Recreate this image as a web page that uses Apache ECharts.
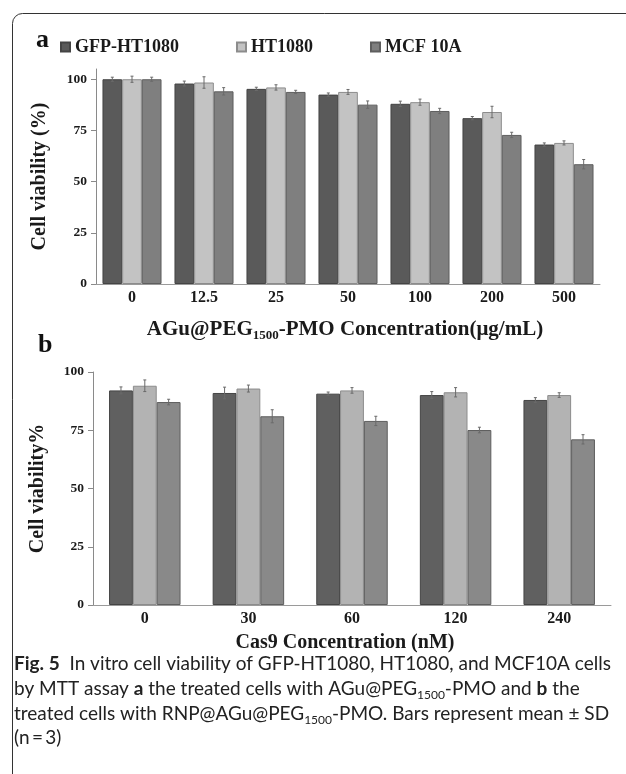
<!DOCTYPE html>
<html><head><meta charset="utf-8">
<script src="https://cdn.jsdelivr.net/npm/echarts@6/dist/echarts.min.js"></script>
<style>html,body{margin:0;padding:0;background:#fff}#c{width:626px;height:774px}</style>
</head><body><div id="c"></div>
<script>
const seriesNames = ['GFP-HT1080', 'HT1080', 'MCF 10A'];
const catsA = ['0', '12.5', '25', '50', '100', '200', '500'];
const gfpA = [100, 97.9, 95.3, 92.5, 88.0, 81.0, 68.1];
const htA  = [100, 98.4, 96.0, 93.8, 88.8, 84.0, 68.9];
const mcfA = [100, 94.1, 93.8, 87.6, 84.5, 72.8, 58.5];
const gfpAErr = [1.0, 1.2, 0.8, 0.8, 1.3, 0.8, 0.8];
const htAErr  = [1.5, 2.8, 1.3, 1.2, 1.5, 2.8, 1.0];
const mcfAErr = [1.0, 1.8, 0.8, 1.8, 1.3, 1.3, 2.3];
const catsB = ['0', '30', '60', '120', '240'];
const gfpB = [92.1, 91.0, 90.7, 90.1, 88.0];
const htB  = [94.1, 92.9, 92.1, 91.3, 90.1];
const mcfB = [87.1, 81.0, 79.0, 75.1, 71.1];
const gfpBErr = [1.5, 2.5, 0.7, 1.5, 1.0];
const htBErr  = [2.5, 1.5, 1.2, 2.0, 1.0];
const mcfBErr = [1.2, 2.8, 2.0, 1.2, 2.0];
const yTicks = [0, 25, 50, 75, 100];

const SERIF = '"Liberation Serif","DejaVu Serif",serif';
const gapA = 0.18, gapB = 0.31;
const colA = ['#5a5a5a', '#c3c3c3', '#7f7f7f'];
const colB = ['#606060', '#b3b3b3', '#898989'];
const bordA = ['#444', '#8c8c8c', '#5e5e5e'];

function bar(name, data, g, color, border, gap) {
  return {type: 'bar', name, data, xAxisIndex: g, yAxisIndex: g, barGap: 0,
    barCategoryGap: (gap * 100) + '%',
    itemStyle: {color, borderColor: border, borderWidth: 1}, emphasis: {disabled: true}};
}
function errSeries(g, idx, vals, errs, gap) {
  return {
    type: 'custom', name: 'err' + g + idx, xAxisIndex: g, yAxisIndex: g, z: 10,
    data: vals.map((v, i) => [i, v, errs[i]]),
    encode: {x: 0, y: 1}, silent: true,
    renderItem(params, api) {
      const ci = api.value(0), v = api.value(1), e = api.value(2);
      const band = api.size([1, 0])[0];
      const bw = band * (1 - gap) / 3;
      const c = api.coord([ci, v]);
      const x = c[0] + (idx - 1) * bw;
      const top = api.coord([ci, v + e])[1], bot = api.coord([ci, v - e])[1];
      const st = {stroke: '#6a6a6a', lineWidth: 1};
      return {type: 'group', children: [
        {type: 'line', shape: {x1: x, y1: top, x2: x, y2: bot}, style: st},
        {type: 'line', shape: {x1: x - 1.5, y1: top, x2: x + 1.5, y2: top}, style: st},
        {type: 'line', shape: {x1: x - 1.5, y1: bot, x2: x + 1.5, y2: bot}, style: st}
      ]};
    }
  };
}
function yAxis(g, max, name, gap) {
  return {type: 'value', gridIndex: g, min: 0, max, interval: 25,
    name, nameLocation: 'middle', nameGap: gap, nameMoveOverlap: false,
    nameTextStyle: {fontFamily: SERIF, fontWeight: 'bold', fontSize: 20, color: '#1a1a1a'},
    axisLine: {show: true, lineStyle: {color: '#8a8a8a'}},
    axisTick: {show: true, length: 5, lineStyle: {color: '#8a8a8a'}, customValues: yTicks},
    axisLabel: {fontFamily: SERIF, fontWeight: 'bold', fontSize: 13.5, color: '#1a1a1a', margin: 9, customValues: yTicks},
    splitLine: {show: false}};
}
function xAxis(g, data, name, nameGap, nameSize, labelSize, shift) {
  return {type: 'category', gridIndex: g, data,
    name, nameLocation: 'middle', nameGap, nameMoveOverlap: false,
    nameTextStyle: {fontFamily: SERIF, fontWeight: 'bold', fontSize: nameSize, color: '#1a1a1a', lineHeight: 24,
      padding: [0, shift, 0, 0],
      rich: {s: {fontFamily: SERIF, fontWeight: 'bold', fontSize: 13, color: '#1a1a1a', verticalAlign: 'bottom', lineHeight: 14}}},
    axisLine: {show: true, lineStyle: {color: '#9a9a9a'}},
    axisTick: {show: false},
    axisLabel: {fontFamily: SERIF, fontWeight: 'bold', fontSize: labelSize, color: '#1a1a1a', margin: 6},
    splitLine: {show: false}};
}

const capStyle = {
  b: {fontFamily: 'Lato', fontWeight: 'bold', fontSize: 19, color: '#222'},
  s: {fontFamily: 'Lato', fontSize: 12, color: '#222', verticalAlign: 'bottom', lineHeight: 13}
};
function capLine(y, text) {
  return {type: 'text', left: 14, top: y, style: {text, fontFamily: 'Lato', fontSize: 19, fill: '#222', lineHeight: 24, rich: capStyle}};
}

const chart = echarts.init(document.getElementById('c'), null, {renderer: 'canvas'});
chart.setOption({
  animation: false,
  backgroundColor: '#fff',
  legend: {data: seriesNames, left: 55, top: 33, itemWidth: 9, itemHeight: 9, itemGap: 57,
    icon: 'rect', selectedMode: false,
    textStyle: {fontFamily: SERIF, fontWeight: 'bold', fontSize: 18, color: '#1a1a1a'}},
  grid: [
    {left: 96, top: 69, width: 504, height: 215},
    {left: 93, top: 372, width: 518, height: 233}
  ],
  xAxis: [
    xAxis(0, catsA, 'AGu@PEG{s|1500}-PMO Concentration(μg/mL)', 34, 21, 16, 6),
    xAxis(1, catsB, 'Cas9 Concentration (nM)', 26, 20, 16, 14)
  ],
  yAxis: [yAxis(0, 105, 'Cell viability (%)', 46), yAxis(1, 100, 'Cell viability%', 45)],
  series: [
    bar(seriesNames[0], gfpA, 0, colA[0], bordA[0], gapA),
    bar(seriesNames[1], htA, 0, colA[1], bordA[1], gapA),
    bar(seriesNames[2], mcfA, 0, colA[2], bordA[2], gapA),
    bar(seriesNames[0], gfpB, 1, colB[0], bordA[0], gapB),
    bar(seriesNames[1], htB, 1, colB[1], bordA[1], gapB),
    bar(seriesNames[2], mcfB, 1, colB[2], bordA[2], gapB),
    errSeries(0, 0, gfpA, gfpAErr, gapA), errSeries(0, 1, htA, htAErr, gapA), errSeries(0, 2, mcfA, mcfAErr, gapA),
    errSeries(1, 0, gfpB, gfpBErr, gapB), errSeries(1, 1, htB, htBErr, gapB), errSeries(1, 2, mcfB, mcfBErr, gapB)
  ],
  graphic: [
    {type: 'rect', shape: {x: 12.5, y: 13.5, width: 660, height: 800, r: 10}, style: {fill: 'none', stroke: '#333', lineWidth: 1}, z: -1},
    {type: 'text', left: 36, top: 27, style: {text: 'a', fontFamily: SERIF, fontWeight: 'bold', fontSize: 26, fill: '#111'}},
    {type: 'text', left: 38, top: 332, style: {text: 'b', fontFamily: SERIF, fontWeight: 'bold', fontSize: 26, fill: '#111'}},
    capLine(652, '{b|Fig. 5}  In vitro cell viability of GFP-HT1080, HT1080, and MCF10A cells'),
    capLine(677, 'by MTT assay {b|a} the treated cells with AGu@PEG{s|1500}-PMO and {b|b} the'),
    capLine(702, 'treated cells with RNP@AGu@PEG{s|1500}-PMO. Bars represent mean ± SD'),
    capLine(726, '(n\u2009=\u20093)')
  ]
});
</script></body></html>
